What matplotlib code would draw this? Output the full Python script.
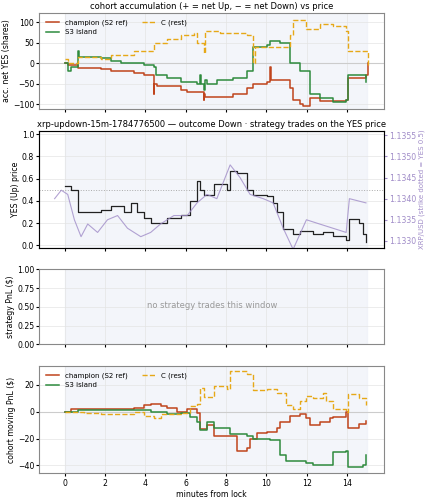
import matplotlib
matplotlib.use('Agg')
import matplotlib.pyplot as plt

# cohort accumulation (shares)
acc_champ_t = [0, 0.16, 0.66, 1.81, 2.3, 3.45, 3.94, 4.43, 4.45, 4.6, 5.75, 6.08, 6.9, 6.93, 6.98, 8.37, 9.03, 9.36, 10.02, 10.18, 10.21, 11.17, 11.33, 11.66, 11.82, 12.15, 12.64, 13.96, 14.04, 14.94, 15.02]
acc_champ_v = [0, -5, -12, -15, -20, -25, -30, -75, -50, -55, -65, -70, -90, -75, -82, -75, -60, -50, -45, -10, -40, -60, -90, -100, -105, -85, -92, -90, -35, -30, 0]
acc_s3_t = [0, 0.16, 0.33, 0.66, 0.7, 1.81, 2.3, 2.79, 3.94, 4.43, 4.5, 4.52, 5.09, 5.75, 6.57, 6.73, 6.76, 6.9, 6.95, 7.06, 7.55, 8.37, 9.03, 9.36, 10.02, 10.18, 10.67, 11.17, 11.66, 12.15, 12.64, 13.3, 13.96, 14.04, 14.94]
acc_s3_v = [0, -20, -10, 30, 15, 12, 5, 0, -5, -10, -10, -30, -35, -45, -50, -30, -50, -65, -40, -50, -40, -35, -20, 40, 45, 55, 50, 0, -20, -75, -85, -95, -90, -30, -45]
acc_c_t = [0, 0.16, 0.66, 1.81, 2.3, 3.45, 4.43, 5.09, 5.75, 6.4, 6.57, 6.9, 6.98, 7.72, 9.03, 9.36, 9.45, 10.51, 11.17, 11.33, 11.99, 12.64, 13.3, 13.96, 14.04, 14.94, 15.02]
acc_c_v = [10, 0, 15, 10, 20, 30, 50, 60, 70, 75, 50, 25, 80, 75, 70, 0, 40, 40, 70, 105, 85, 95, 90, 80, 30, 30, -10]

# YES price and XRP price
yes_t = [0, 0.33, 0.66, 1.81, 2.3, 2.96, 3.28, 3.61, 3.94, 4.27, 5.09, 5.75, 6.24, 6.57, 6.73, 6.9, 7.39, 8.05, 8.21, 8.54, 9.03, 9.36, 10.02, 10.34, 10.51, 10.84, 11.33, 11.66, 12.32, 12.81, 13.3, 13.96, 14.12, 14.61, 14.78, 14.94]
yes_v = [0.53, 0.5, 0.3, 0.32, 0.35, 0.3, 0.38, 0.3, 0.25, 0.2, 0.25, 0.27, 0.4, 0.58, 0.5, 0.45, 0.55, 0.5, 0.67, 0.65, 0.5, 0.45, 0.44, 0.38, 0.3, 0.15, 0.1, 0.13, 0.1, 0.12, 0.08, 0.05, 0.24, 0.2, 0.1, 0.03]
xrp_t = [-0.49, -0.16, 0.16, 0.49, 0.82, 1.15, 1.64, 2.13, 2.63, 3.12, 3.78, 4.27, 4.76, 5.42, 6.08, 6.57, 7.06, 7.55, 8.21, 8.7, 9.2, 9.85, 10.34, 10.84, 11.33, 11.99, 12.64, 13.3, 13.96, 14.12, 14.94]
xrp_v = [1.1340, 1.1342, 1.1341, 1.1335, 1.1331, 1.1334, 1.1332, 1.1335, 1.1336, 1.1333, 1.1331, 1.1332, 1.1334, 1.1336, 1.1336, 1.1339, 1.1341, 1.1340, 1.1348, 1.1345, 1.1341, 1.1340, 1.1339, 1.1333, 1.1328, 1.1335, 1.1334, 1.1333, 1.1332, 1.1340, 1.1339]

# cohort moving PnL ($)
pnl_champ_t = [0, 0.33, 3.45, 3.94, 4.27, 4.76, 5.09, 5.58, 6.08, 6.57, 6.73, 7.06, 7.39, 8.37, 8.54, 9.03, 9.2, 9.52, 10.02, 10.51, 10.67, 11.17, 11.66, 11.99, 12.15, 12.64, 13.14, 13.3, 13.96, 14.04, 14.61, 14.94]
pnl_champ_v = [0, 2, 3, 5, 6, 4, 3, 0, 2, -1, -13, -10, -18, -18, -29, -27, -20, -16, -15, -12, -8, -3, -2, -5, -10, -8, -5, -4, 0, -12, -9, -7]
pnl_s3_t = [0, 0.66, 3.45, 4.27, 5.09, 5.75, 6.24, 6.57, 6.73, 7.06, 7.39, 8.21, 9.03, 9.36, 10.18, 10.67, 11.0, 11.99, 12.32, 13.3, 13.96, 14.04, 14.78, 14.94]
pnl_s3_v = [0, 1, 1, 0, -2, -1, -4, -8, -14, -8, -12, -17, -18, -20, -21, -32, -37, -38, -40, -30, -29, -41, -40, -32]
pnl_c_t = [0, 0.99, 1.81, 3.45, 3.94, 4.43, 4.76, 5.75, 6.24, 6.57, 6.73, 6.9, 7.39, 8.05, 8.21, 9.03, 9.36, 10.02, 10.51, 11.0, 11.33, 11.66, 11.99, 12.32, 12.81, 12.97, 13.3, 13.96, 14.04, 14.61, 14.94]
pnl_c_v = [0, -1, -2, 0, -3, -5, -2, -1, 4, 6, 18, 11, 19, 17, 30, 28, 16, 17, 14, 5, 2, 8, 12, 10, 14, 8, 2, 0, 13, 10, 5]

RED = '#c0441c'
GREEN = '#2e8b3e'
ORANGE = '#e6a817'
PURPLE = '#a08cc8'

plt.rcParams['font.size'] = 5.6
plt.rcParams['axes.labelpad'] = 1.5
plt.rcParams['xtick.major.pad'] = 1.5
plt.rcParams['ytick.major.pad'] = 1.2
plt.rcParams['xtick.major.size'] = 2.5
plt.rcParams['ytick.major.size'] = 2.5
fig, axs = plt.subplots(4, 1, figsize=(4.27, 5.0), dpi=100, sharex=True,
                        gridspec_kw={'height_ratios': [96, 117, 75, 107]})
fig.subplots_adjust(left=0.092, right=0.9, top=0.974, bottom=0.054, hspace=0.22)

for ax in axs:
    ax.axvspan(0, 15, color='#eef1f8', alpha=0.7, zorder=0)
    ax.grid(True, color='#e4e4e4', lw=0.5)
    for s in ax.spines.values():
        s.set_color('#888888')

ax = axs[0]
ax.axhline(0, color='#cccccc', lw=0.8)
ax.step(acc_champ_t, acc_champ_v, where='post', color=RED, lw=1.1, label='champion (S2 ref)')
ax.step(acc_s3_t, acc_s3_v, where='post', color=GREEN, lw=1.1, label='S3 island')
ax.step(acc_c_t, acc_c_v, where='post', color=ORANGE, lw=1.0, ls='--', label='C (rest)')
ax.set_ylim(-112, 123)
ax.set_ylabel('acc. net YES (shares)')
ax.set_title('cohort accumulation (+ = net Up, − = net Down) vs price', fontsize=6, pad=3)
ax.legend(loc='upper left', ncol=2, fontsize=5, frameon=False)

ax = axs[1]
ax.axhline(0.5, color='#aaaaaa', lw=0.7, ls=':')
ax.step(yes_t, yes_v, where='post', color='#222222', lw=0.9)
ax.set_ylim(-0.02, 1.03)
ax.set_ylabel('YES (Up) price')
ax.set_title('xrp-updown-15m-1784776500 — outcome Down · strategy trades on the YES price', fontsize=6, pad=3)
ax2 = ax.twinx()
ax2.plot(xrp_t, xrp_v, color=PURPLE, lw=0.8, alpha=0.8)
ax2.set_ylim(1.13284, 1.13561)
ax2.set_ylabel('XRP/USD (strike dotted = YES 0.5)', color=PURPLE, fontsize=5)
ax2.tick_params(axis='y', colors=PURPLE)
ax2.ticklabel_format(useOffset=False)
ax2.set_yticks([1.1330, 1.1335, 1.1340, 1.1345, 1.1350, 1.1355])

ax = axs[2]
ax.set_ylim(0, 1.0)
ax.set_ylabel('strategy PnL ($)')
ax.text(0.5, 0.52, 'no strategy trades this window', transform=ax.transAxes,
        ha='center', va='center', color='#999999', fontsize=6)

ax = axs[3]
ax.axhline(0, color='#cccccc', lw=0.8)
ax.step(pnl_champ_t, pnl_champ_v, where='post', color=RED, lw=1.1, label='champion (S2 ref)')
ax.step(pnl_s3_t, pnl_s3_v, where='post', color=GREEN, lw=1.1, label='S3 island')
ax.step(pnl_c_t, pnl_c_v, where='post', color=ORANGE, lw=1.0, ls='--', label='C (rest)')
ax.set_ylim(-45.7, 34)
ax.set_ylabel('cohort moving PnL ($)')
ax.set_xlabel('minutes from lock')
ax.legend(loc='upper left', ncol=2, fontsize=5, frameon=False)
ax.set_xlim(-1.25, 15.85)
ax.set_xticks([0, 2, 4, 6, 8, 10, 12, 14])

fig.savefig('out.png', dpi=100)
